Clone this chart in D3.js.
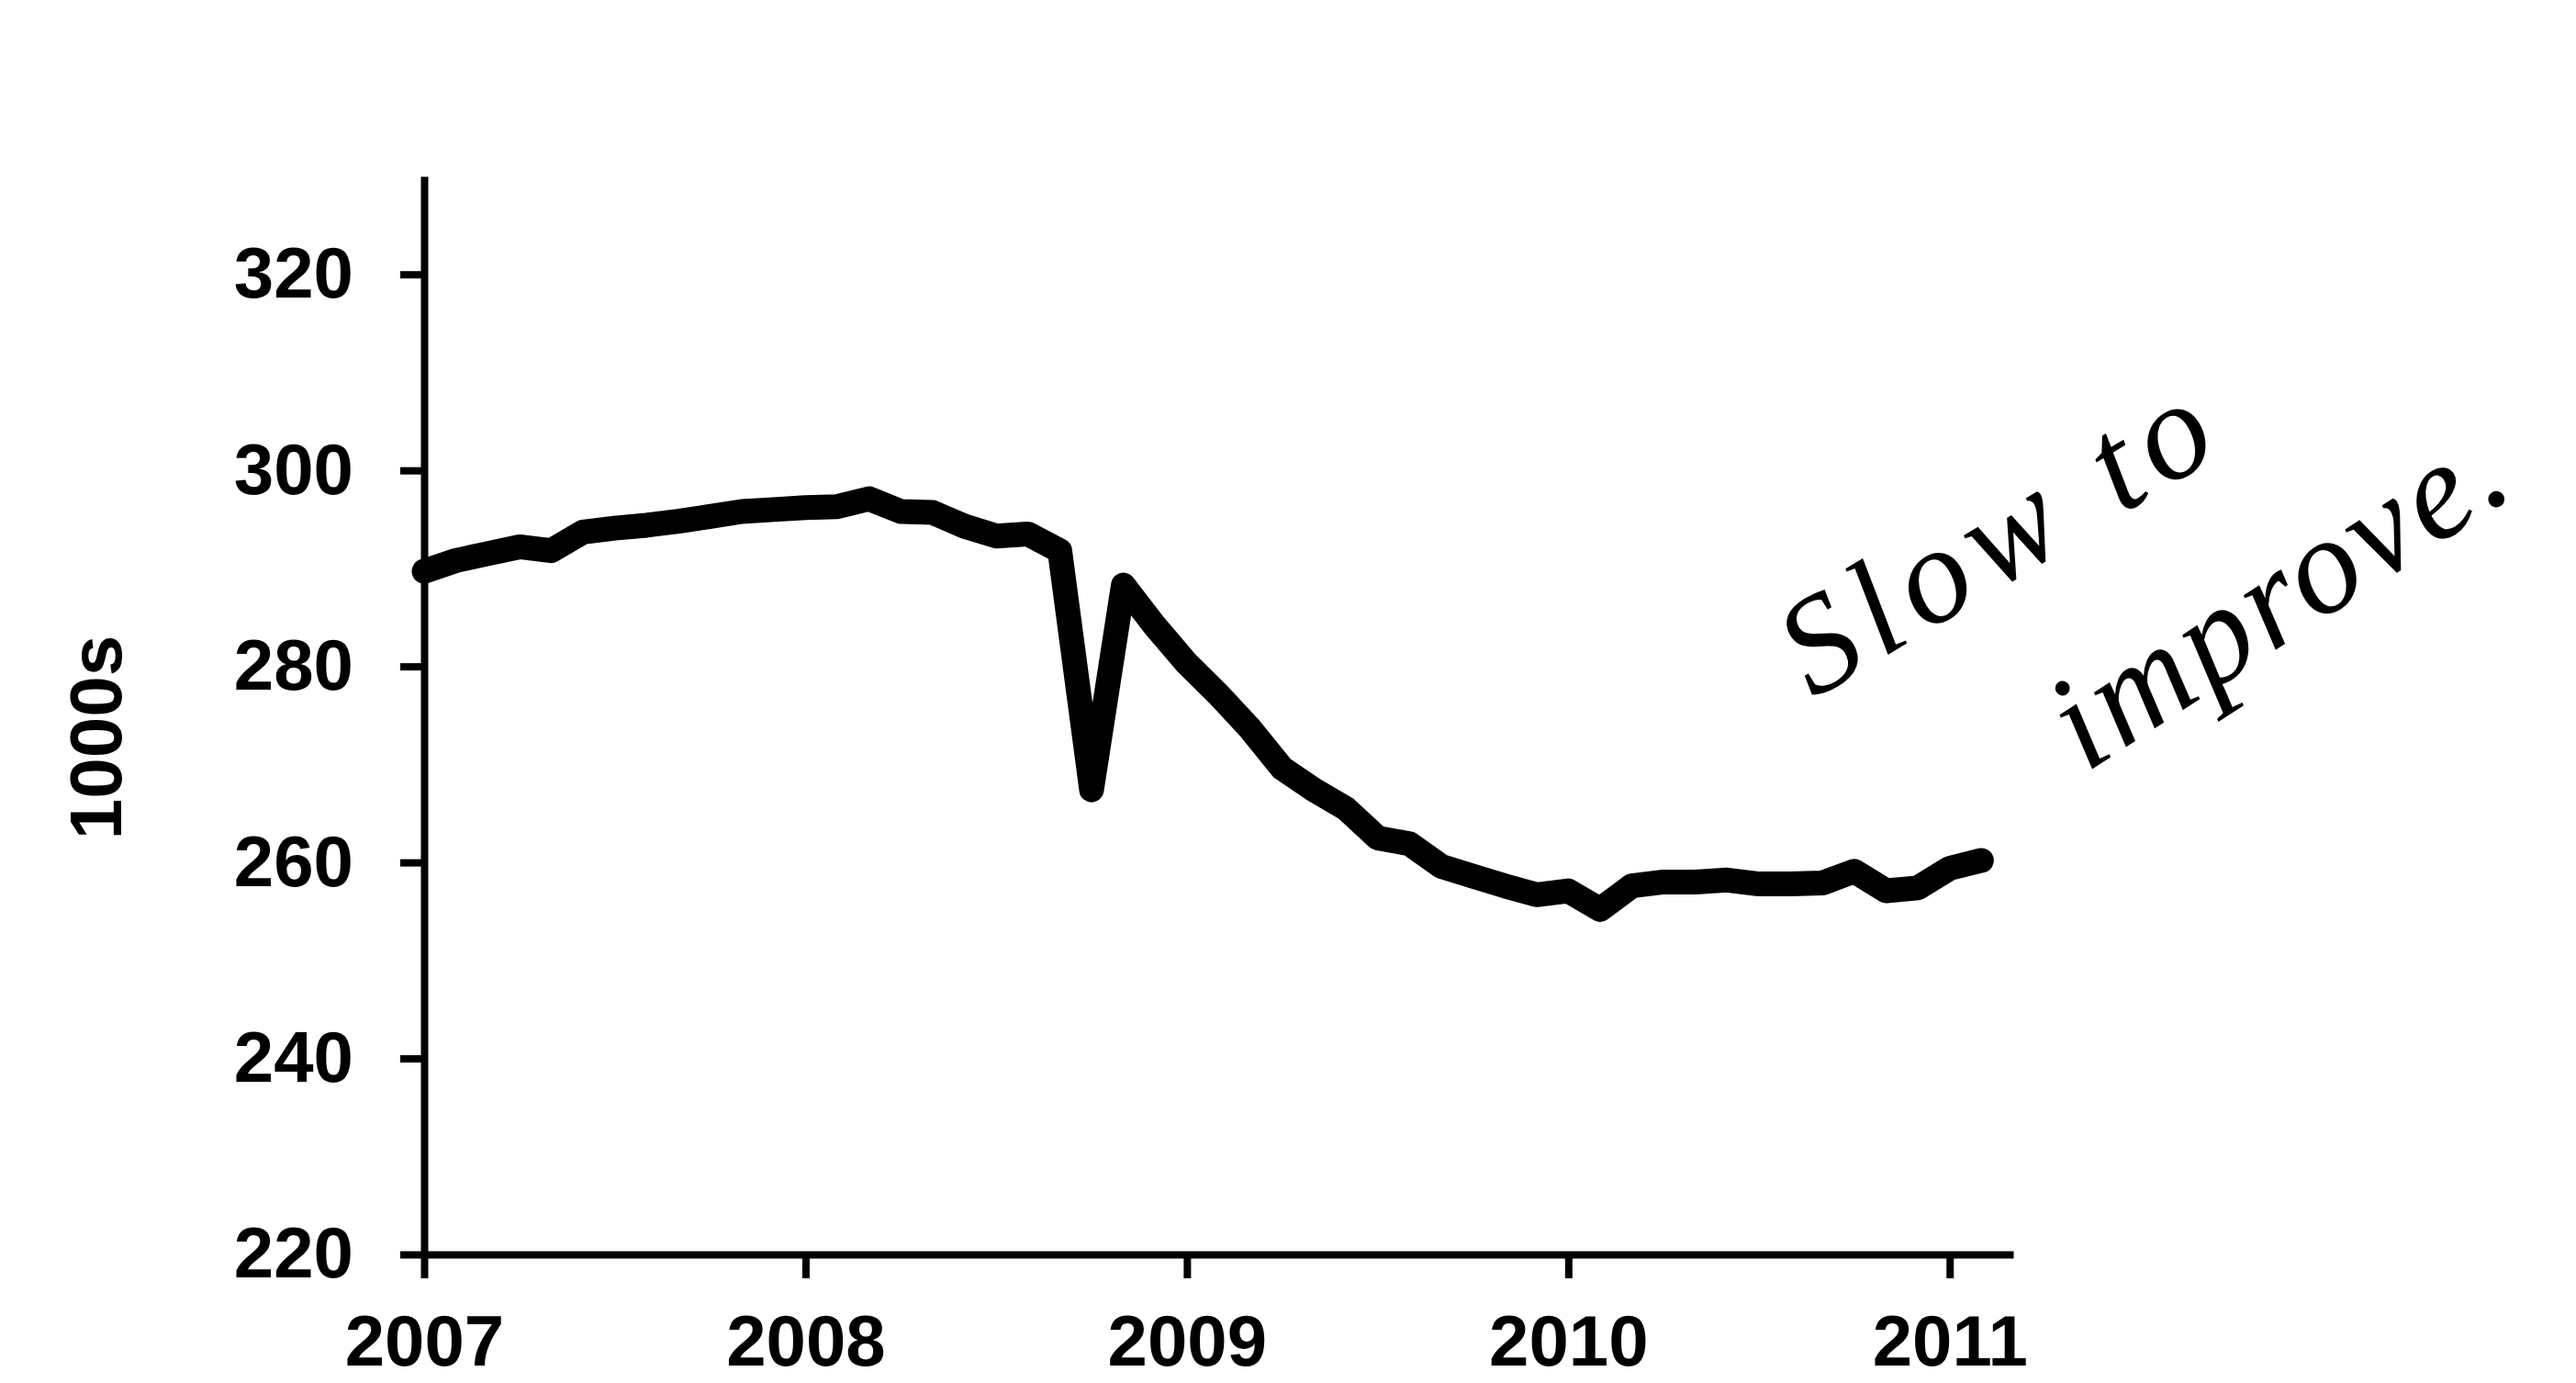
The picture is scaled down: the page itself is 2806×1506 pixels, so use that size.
<!DOCTYPE html>
<html>
<head>
<meta charset="utf-8">
<script src="https://cdnjs.cloudflare.com/ajax/libs/d3/7.8.5/d3.min.js"></script>
<style>
  body { margin: 0; background: #fff; }
  svg { display: block; }
  .axis text { font-family: "Liberation Sans", Arial, sans-serif; font-weight: bold; fill: #000; }
  .axis line, .axis path { stroke: #000; stroke-width: 8; }
  .note { font-family: "Liberation Serif", serif; font-style: italic; fill: #000; }
</style>
</head>
<body>
<div id="chart"></div>
<script>
// monthly values, Jan 2007 .. Feb 2011 (1000s)
var startYear = 2007;
var values = [
  289.7, 290.8, 291.5, 292.2, 291.8, 293.7, 294.1, 294.4, 294.8, 295.3, 295.8, 296.0,
  296.2, 296.3, 297.1, 295.8, 295.7, 294.3, 293.3, 293.5, 291.8, 267.4, 288.3, 284.1,
  280.3, 277.1, 273.6, 269.6, 267.4, 265.5, 262.5, 261.9, 259.6, 258.6, 257.6, 256.7,
  257.1, 255.2, 257.6, 258.0, 258.0, 258.2, 257.8, 257.8, 257.9, 259.1, 257.1, 257.4,
  259.4, 260.2
];
var yearTicks = [2007, 2008, 2009, 2010, 2011];
var valueTicks = [220, 240, 260, 280, 300, 320];
var yDomain = [220, 330];
var xDomain = [2007, 2011 + 2 / 12];
var yLabel = "1000s";
var noteLines = ["Slow to", "improve."];

var attrs = {
  width: 2806,
  height: 1506,
  left: 462,
  right: 2193,
  top: 192,
  bottom: 1366
};

var svg = d3.select("#chart").append("svg")
  .attr("width", attrs.width)
  .attr("height", attrs.height);

var x = d3.scaleLinear()
  .domain(xDomain)
  .range([attrs.left, attrs.right]);

var y = d3.scaleLinear()
  .domain(yDomain)
  .range([attrs.bottom, attrs.top]);

var data = values.map((v, i) => ({ t: startYear + i / 12, v: v }));

// axes
svg.append("g")
  .attr("class", "axis y")
  .attr("transform", `translate(${attrs.left},0)`)
  .call(d3.axisLeft(y).tickValues(valueTicks).tickSize(26).tickSizeOuter(0).tickPadding(51))
  .call(g => g.selectAll("text").style("font-size", "78px"));

svg.append("g")
  .attr("class", "axis x")
  .attr("transform", `translate(0,${attrs.bottom})`)
  .call(d3.axisBottom(x).tickValues(yearTicks).tickFormat(d3.format("d")).tickSize(26).tickSizeOuter(0).tickPadding(40))
  .call(g => g.selectAll("text").style("font-size", "78px"));

svg.append("text")
  .attr("class", "axis")
  .attr("transform", "translate(132,803) rotate(-90)")
  .attr("text-anchor", "middle")
  .style("font-family", "'Liberation Sans', Arial, sans-serif")
  .style("font-weight", "bold")
  .style("font-size", "80px")
  .text(yLabel);

// series
var line = d3.line()
  .x(d => x(d.t))
  .y(d => y(d.v));

svg.append("path")
  .datum(data)
  .attr("d", line)
  .attr("fill", "none")
  .attr("stroke", "#000")
  .attr("stroke-width", 27)
  .attr("stroke-linejoin", "round")
  .attr("stroke-linecap", "round");

// handwritten note
var notePos = [
  { x: 1975, y: 762, angle: -31, len: 520 },
  { x: 2272, y: 842, angle: -33, len: 560 }
];

svg.selectAll("text.note")
  .data(noteLines)
  .enter().append("text")
  .attr("class", "note")
  .attr("transform", (d, i) => `translate(${notePos[i].x},${notePos[i].y}) rotate(${notePos[i].angle})`)
  .attr("textLength", (d, i) => notePos[i].len)
  .attr("lengthAdjust", "spacing")
  .style("font-size", "150px")
  .text(d => d);
</script>
</body>
</html>
